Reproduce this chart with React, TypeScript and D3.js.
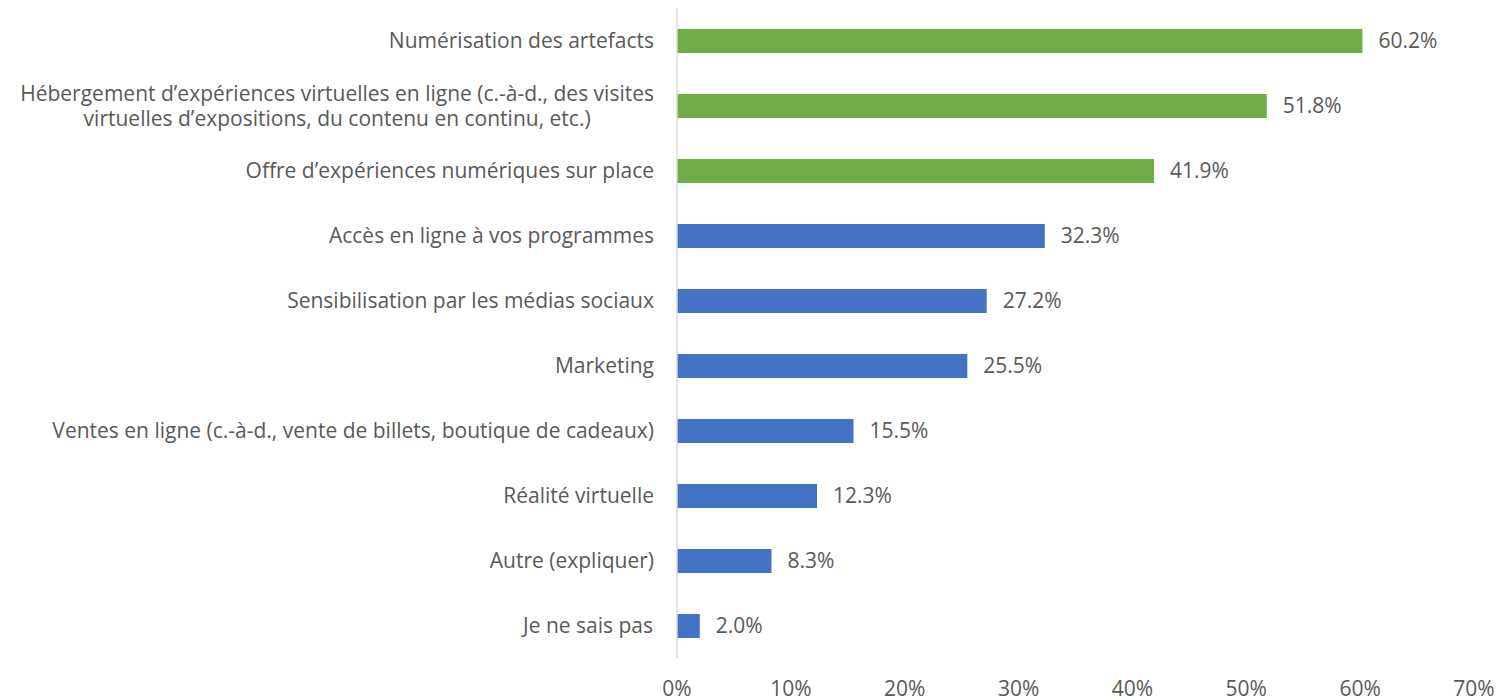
import React, { useEffect, useRef } from "react";
import * as d3 from "d3";

const categories: string[][] = [
  ["Numérisation des artefacts"],
  ["Hébergement d’expériences virtuelles en ligne (c.-à-d., des visites", "virtuelles d’expositions, du contenu en continu, etc.)"],
  ["Offre d’expériences numériques sur place"],
  ["Accès en ligne à vos programmes"],
  ["Sensibilisation par les médias sociaux"],
  ["Marketing"],
  ["Ventes en ligne (c.-à-d., vente de billets, boutique de cadeaux)"],
  ["Réalité virtuelle"],
  ["Autre (expliquer)"],
  ["Je ne sais pas"],
];
const values: number[] = [60.2, 51.8, 41.9, 32.3, 27.2, 25.5, 15.5, 12.3, 8.3, 2.0];
const highlighted: boolean[] = [true, true, true, false, false, false, false, false, false, false];
const ticks: number[] = [0, 10, 20, 30, 40, 50, 60, 70];

const W = 1497;
const H = 699;
const FONT = "'Open Sans', sans-serif";
const TEXT = "#595959";
const FS = 21;

export default function App() {
  const ref = useRef<SVGSVGElement>(null);
  useEffect(() => {
    const svg = d3.select(ref.current);
    svg.selectAll("*").remove();
    const x = d3.scaleLinear().domain([0, 70]).range([677, 1474]);
    const y = d3
      .scaleBand<number>()
      .domain(d3.range(values.length))
      .range([8.5, 658.5])
      .paddingInner(0.63)
      .paddingOuter(0.315);

    svg
      .append("g")
      .selectAll("rect")
      .data(values)
      .join("rect")
      .attr("x", x(0))
      .attr("y", (_, i) => y(i)!)
      .attr("width", (d) => x(d) - x(0))
      .attr("height", y.bandwidth())
      .attr("fill", (_, i) => (highlighted[i] ? "#70AD47" : "#4472C4"));

    svg
      .append("line")
      .attr("x1", x(0))
      .attr("x2", x(0))
      .attr("y1", 8)
      .attr("y2", 658)
      .attr("stroke", "#d9d9d9")
      .attr("stroke-width", 1.5);

    svg
      .append("g")
      .selectAll("text")
      .data(values)
      .join("text")
      .attr("x", (d) => x(d) + 16)
      .attr("y", (_, i) => y(i)! + y.bandwidth() / 2)
      .attr("dy", "0.35em")
      .attr("font-family", FONT)
      .attr("font-size", FS)
      .attr("fill", TEXT)
      .text((d) => d.toFixed(1) + "%");

    const lab = svg
      .append("g")
      .selectAll("text")
      .data(categories)
      .join("text")
      .attr("text-anchor", "middle")
      .attr("font-family", FONT)
      .attr("font-size", FS)
      .attr("fill", TEXT)
      .attr("x", 0)
      .attr("y", (_, i) => y(i)! + y.bandwidth() / 2);
    lab.each(function (lines) {
      const t = d3.select(this);
      const n = lines.length;
      lines.forEach((ln, k) => {
        t.append("tspan")
          .attr("x", 0)
          .attr("dy", k === 0 ? `${0.35 - ((n - 1) * 1.2) / 2}em` : "1.2em")
          .text(ln);
      });
    });
    lab.each(function () {
      const t = d3.select(this);
      const bb = (this as SVGTextElement).getBBox();
      const cx = 654 - bb.width / 2;
      t.attr("x", cx);
      t.selectAll("tspan").attr("x", cx);
    });

    svg
      .append("g")
      .selectAll("text")
      .data(ticks)
      .join("text")
      .attr("x", (d) => x(d))
      .attr("y", 689)
      .attr("dy", "0.35em")
      .attr("text-anchor", "middle")
      .attr("font-family", FONT)
      .attr("font-size", FS)
      .attr("fill", TEXT)
      .text((d) => d + "%");
  }, []);
  return <svg ref={ref} width={W} height={H} style={{ display: "block", position: "absolute", left: 0, top: 0 }} />;
}
